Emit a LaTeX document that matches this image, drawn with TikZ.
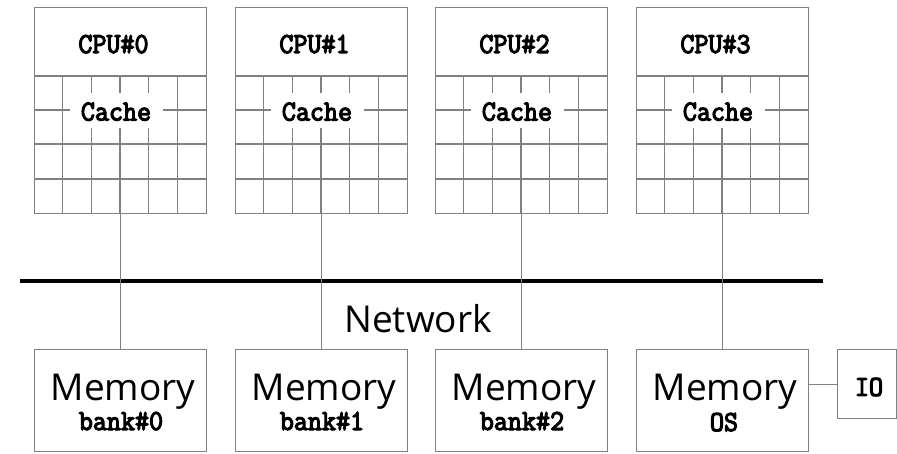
\documentclass[tikz,border=0pt]{standalone}
\usepackage{fontspec}
\setmainfont{Open Sans}
\newfontfamily\monof[FakeBold=4,FakeStretch=0.94]{Latin Modern Mono}
\definecolor{linegray}{RGB}{128,128,128}
\tikzset{
  boxst/.style={draw=linegray, line width=1.4pt, inner sep=0pt, anchor=north west, minimum width=172pt},
  cpubox/.style={boxst, minimum height=206pt},
  membox/.style={boxst, minimum height=102pt},
  gridln/.style={draw=linegray, line width=1.3pt},
  wire/.style={draw=linegray, line width=1.3pt},
  bus/.style={draw=black, line width=3.5pt},
  monotxt/.style={font=\monof\fontsize{29}{29}\selectfont, inner sep=0pt, anchor=base},
  bigtxt/.style={font=\fontsize{37}{37}\selectfont, inner sep=0pt, anchor=base},
  cachelbl/.style={monotxt, fill=white, anchor=center, minimum width=93pt, minimum height=35pt, text depth=0pt}
}
\begin{document}
\begin{tikzpicture}[x=1pt,y=-1pt]
\useasboundingbox (0,0) rectangle (897,453);
\foreach \i/\x in {0/34,1/235,2/435,3/636}{
  \node[cpubox] (cpu\i) at (\x,7) {};
  \foreach \r in {76,110,144,179}{
    \draw[gridln] (\x,\r) -- (\x+172,\r);
  }
  \foreach \k in {1,...,5}{
    \draw[gridln] (\x+28.67*\k,76) -- (\x+28.67*\k,213);
  }
  \node[cachelbl] (cache\i) at (\x+82,110) {\raisebox{-3pt}{Cache}};
  \node[monotxt] (cpulbl\i) at (\x+79.5,53) {CPU\#\i};
  \node[membox] (mem\i) at (\x,349) {};
  \node[bigtxt] (memlbl\i) at (\x+89,400) {Memory};
}
\node[monotxt] (bank0) at (121,430) {bank\#0};
\node[monotxt] (bank1) at (322,430) {bank\#1};
\node[monotxt] (bank2) at (522,430) {bank\#2};
\node[monotxt] (os) at (724,431) {OS};
\coordinate (busL) at (20,281);
\coordinate (busR) at (823,281);
\draw[bus] (busL) -- (busR);
\node[bigtxt] (net) at (418,332) {Network};
\foreach \i in {0,1,2,3}{
  \draw[wire] (cpu\i.south) -- (mem\i.north);
}
\node[boxst, minimum width=59pt, minimum height=69pt, anchor=north west] (io) at (837,349) {};
\node[monotxt, anchor=center] (iolbl) at (869,387) {IO};
\draw[wire] (mem3.east |- io.west) -- (io.west);
\end{tikzpicture}
\end{document}
